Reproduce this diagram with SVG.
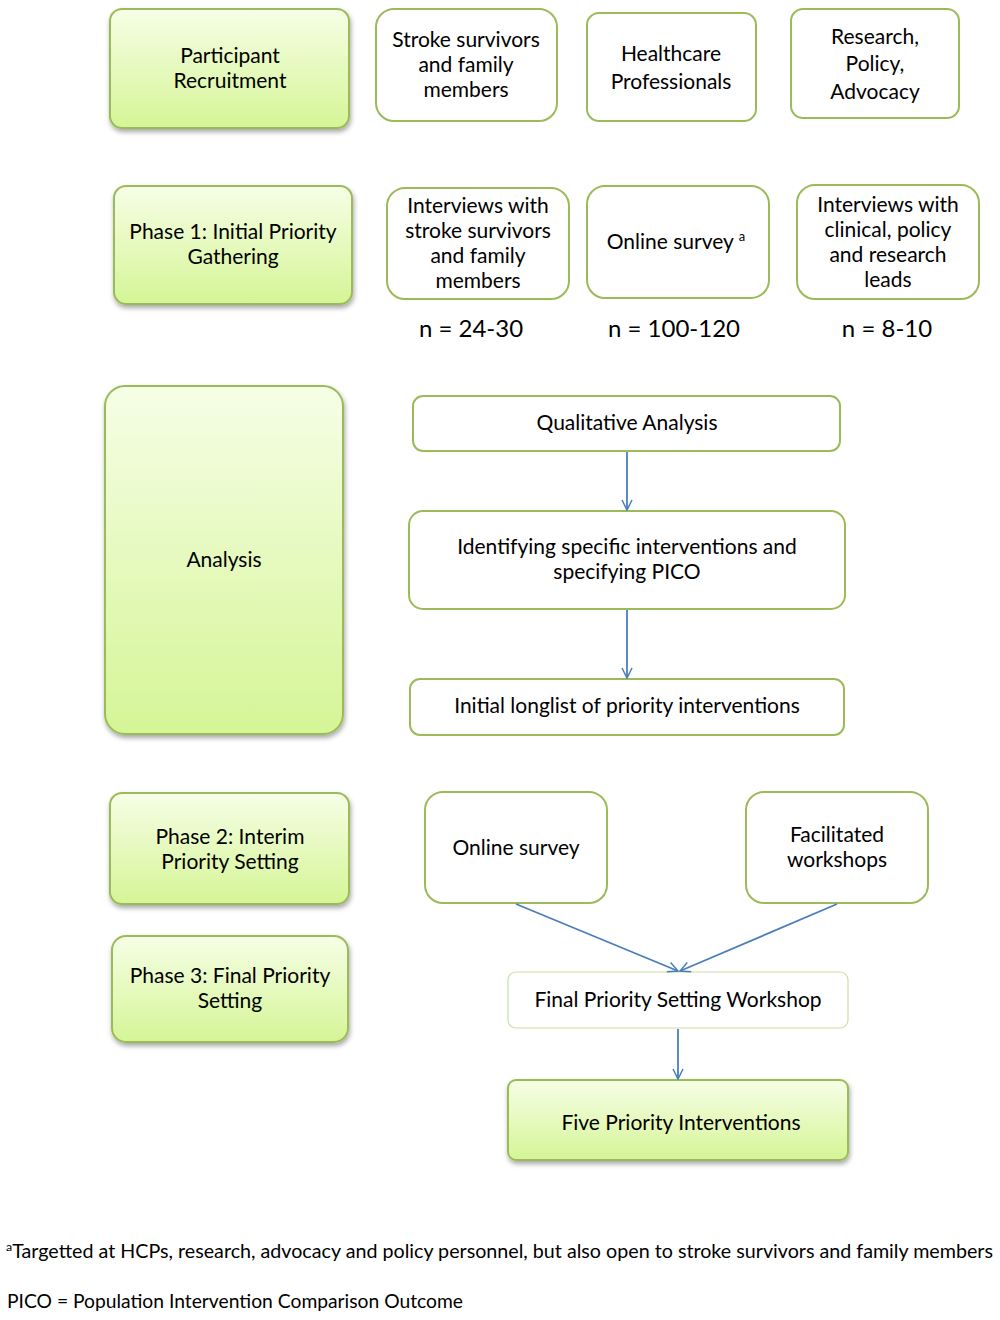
<svg xmlns="http://www.w3.org/2000/svg" width="1000" height="1320" viewBox="0 0 1000 1320">
<defs>
<linearGradient id="g" x1="0" y1="0" x2="0" y2="1">
<stop offset="0" stop-color="#f6fee6"/>
<stop offset="1" stop-color="#d5f596"/>
</linearGradient>
<filter id="sh" x="-10%" y="-10%" width="125%" height="130%">
<feDropShadow dx="1" dy="3" stdDeviation="2.5" flood-color="#000" flood-opacity="0.35"/>
</filter>
<marker id="arr" viewBox="0 0 12 12" refX="11" refY="6" markerWidth="12" markerHeight="12" markerUnits="userSpaceOnUse" orient="auto">
<path d="M1,1 L11,6 L1,11" fill="none" stroke="#4a7ebb" stroke-width="1.5"/>
</marker>
</defs>
<style>
.gb{fill:url(#g);stroke:#9bbb59;stroke-width:2;filter:url(#sh)}
.wb{fill:#fff;stroke:#9bbb59;stroke-width:2}
.lb{fill:#fff;stroke:#c9e0a4;stroke-width:1.2}
text{font-family:Lato,"Open Sans","Liberation Sans",sans-serif;font-size:21px;fill:#000;text-anchor:middle}
.n{font-size:24px}
.fn{font-size:19px;text-anchor:start}
.c{stroke:#4a7ebb;stroke-width:1.8;fill:none;marker-end:url(#arr)}
</style>
<rect width="1000" height="1320" fill="#fff"/>

<g id="participant-recruitment"><rect class="gb" x="110" y="9" width="239" height="119" rx="12"/>
<text x="230" y="63">Participant</text><text x="230" y="88">Recruitment</text></g>
<g id="stroke-survivors"><rect class="wb" x="376" y="9" width="181" height="112" rx="18"/>
<text x="466" y="47">Stroke survivors</text><text x="466" y="72">and family</text><text x="466" y="97">members</text></g>
<g id="healthcare-professionals"><rect class="wb" x="587" y="13" width="169" height="108" rx="12"/>
<text x="671" y="61">Healthcare</text><text x="671" y="89">Professionals</text></g>
<g id="research-policy"><rect class="wb" x="791" y="9" width="168" height="109" rx="12"/>
<text x="875" y="44">Research,</text><text x="875" y="71">Policy,</text><text x="875" y="99">Advocacy</text></g>

<g id="phase1"><rect class="gb" x="114" y="186" width="238" height="118" rx="12"/>
<text x="233" y="239">Phase 1: Initial Priority</text><text x="233" y="264">Gathering</text></g>
<g id="interviews-stroke"><rect class="wb" x="387" y="188" width="182" height="111" rx="18"/>
<text x="478" y="213">Interviews with</text><text x="478" y="238">stroke survivors</text><text x="478" y="263">and family</text><text x="478" y="288">members</text></g>
<g id="online-survey-a"><rect class="wb" x="587" y="186" width="182" height="112" rx="18"/>
<text x="676" y="249">Online survey <tspan font-size="13" dy="-8">a</tspan></text></g>
<g id="interviews-clinical"><rect class="wb" x="797" y="185" width="182" height="114" rx="18"/>
<text x="888" y="212">Interviews with</text><text x="888" y="237">clinical, policy</text><text x="888" y="262">and research</text><text x="888" y="287">leads</text></g>
<text class="n" x="471" y="337">n = 24-30</text>
<text class="n" x="674" y="337">n = 100-120</text>
<text class="n" x="887" y="337">n = 8-10</text>

<g id="analysis"><rect class="gb" x="105" y="386" width="238" height="348" rx="20"/>
<text x="224" y="567">Analysis</text></g>
<g id="qualitative-analysis"><rect class="wb" x="413" y="396" width="427" height="55" rx="10"/>
<text x="627" y="430">Qualitative Analysis</text></g>
<g id="identifying"><rect class="wb" x="409" y="511" width="436" height="98" rx="14"/>
<text x="627" y="554">Identifying specific interventions and</text><text x="627" y="579">specifying PICO</text></g>
<g id="longlist"><rect class="wb" x="410" y="679" width="434" height="56" rx="10"/>
<text x="627" y="713">Initial longlist of priority interventions</text></g>

<g id="phase2"><rect class="gb" x="110" y="793" width="239" height="111" rx="12"/>
<text x="230" y="844">Phase 2: Interim</text><text x="230" y="869">Priority Setting</text></g>
<g id="phase3"><rect class="gb" x="112" y="936" width="236" height="106" rx="14"/>
<text x="230" y="983">Phase 3: Final Priority</text><text x="230" y="1008">Setting</text></g>
<g id="online-survey"><rect class="wb" x="425" y="792" width="182" height="111" rx="18"/>
<text x="516" y="855">Online survey</text></g>
<g id="facilitated-workshops"><rect class="wb" x="746" y="792" width="182" height="111" rx="18"/>
<text x="837" y="842">Facilitated</text><text x="837" y="867">workshops</text></g>
<g id="final-workshop"><rect class="lb" x="508" y="972" width="340" height="56" rx="8"/>
<text x="678" y="1007">Final Priority Setting Workshop</text></g>
<g id="five-priority"><rect class="gb" x="508" y="1080" width="340" height="80" rx="8"/>
<text x="681" y="1130">Five Priority Interventions</text></g>

<g id="connectors">
<line class="c" x1="627" y1="452" x2="627" y2="510"/>
<line class="c" x1="627" y1="610" x2="627" y2="678"/>
<line class="c" x1="516" y1="904" x2="678" y2="971"/>
<line class="c" x1="837" y1="904" x2="680" y2="971"/>
<line class="c" x1="678" y1="1029" x2="678" y2="1079"/>
</g>

<text class="fn" x="6" y="1258" textLength="987" lengthAdjust="spacingAndGlyphs"><tspan font-size="12" dy="-7">a</tspan><tspan dy="7">Targetted at HCPs, research, advocacy and policy personnel, but also open to stroke survivors and family members</tspan></text>
<text class="fn" x="7" y="1308" textLength="456" lengthAdjust="spacingAndGlyphs">PICO = Population Intervention Comparison Outcome</text>
</svg>
